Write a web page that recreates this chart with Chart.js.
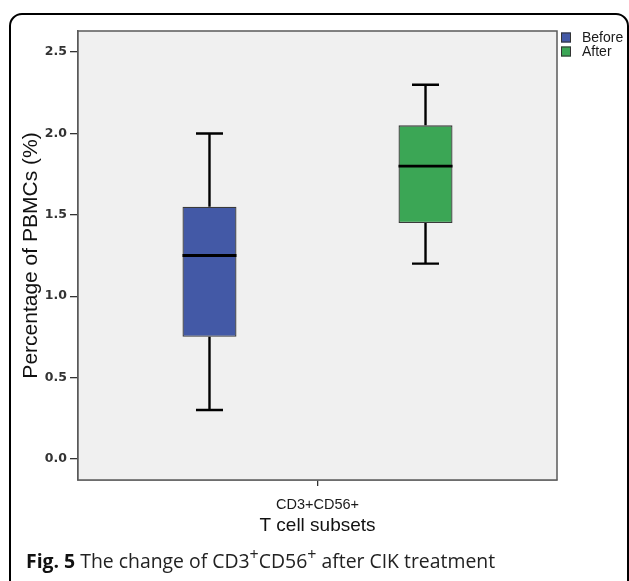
<!DOCTYPE html>
<html>
<head>
<meta charset="utf-8">
<script src="https://cdn.jsdelivr.net/npm/chart.js@4.4.1/dist/chart.umd.min.js"></script>
<style>
  html, body { margin: 0; padding: 0; background: #ffffff; }
  body { width: 629px; height: 581px; position: relative; overflow: hidden; }
  #frame { position: absolute; left: 9px; top: 13px; width: 620px; height: 620px; box-sizing: border-box;
           border: 2.5px solid #000; border-radius: 13px; }
  #wrap { position: absolute; left: 0; top: 0; width: 629px; height: 581px; }
  #caption { position: absolute; left: 26px; top: 550px; font-family: "Open Sans", sans-serif; font-size: 19.4px;
             color: #222; white-space: nowrap; line-height: 22px; }
  #caption b { font-weight: 700; color: #111; }
  #caption sup { font-size: 16px; vertical-align: 0; position: relative; top: -8px; }
</style>
</head>
<body>
<div id="frame"></div>
<div id="wrap"><canvas id="c" width="629" height="581"></canvas></div>
<div id="caption"><b>Fig. 5</b> The change of CD3<sup>+</sup>CD56<sup>+</sup> after CIK treatment</div>
<script>
// ---- data ----
const categories = ['CD3+CD56+'];
const seriesNames = ['Before', 'After'];
const seriesColors = ['#4359A6', '#3BA655'];
const whiskerMin = [0.30, 1.20];
const quartile1  = [0.75, 1.45];
const medians    = [1.25, 1.80];
const quartile3  = [1.55, 2.05];
const whiskerMax = [2.00, 2.30];
const yTickValues = [0.0, 0.5, 1.0, 1.5, 2.0, 2.5];

const datasets = seriesNames.map((name, i) => ({
  label: name,
  data: [[quartile1[i], quartile3[i]]],
  backgroundColor: seriesColors[i],
  borderColor: '#3a3a3a',
  borderWidth: 1.3,
  borderSkipped: false,
  categoryPercentage: 0.902,
  barPercentage: 0.25
}));

const plotBg = {
  id: 'plotBg',
  beforeDatasetsDraw(chart) {
    const {ctx, chartArea: a} = chart;
    ctx.save();
    ctx.fillStyle = '#F0F0F0';
    ctx.fillRect(a.left, a.top, a.right - a.left, a.bottom - a.top);
    ctx.restore();
  },
  afterDraw(chart) {
    const {ctx, chartArea: a} = chart;
    ctx.save();
    ctx.strokeStyle = '#5a5a5a';
    ctx.lineWidth = 1.5;
    ctx.strokeRect(a.left, a.top, a.right - a.left, a.bottom - a.top);
    ctx.restore();
  }
};

const boxWhiskers = {
  id: 'boxWhiskers',
  afterDatasetsDraw(chart) {
    const {ctx} = chart;
    const ys = chart.scales.y;
    ctx.save();
    ctx.strokeStyle = '#000';
    chart.data.datasets.forEach((ds, i) => {
      const meta = chart.getDatasetMeta(i);
      meta.data.forEach((bar, j) => {
        const x = bar.x, w = bar.width;
        const yMin = ys.getPixelForValue(whiskerMin[i]);
        const yQ1 = ys.getPixelForValue(quartile1[i]);
        const yMed = ys.getPixelForValue(medians[i]);
        const yQ3 = ys.getPixelForValue(quartile3[i]);
        const yMax = ys.getPixelForValue(whiskerMax[i]);
        ctx.lineWidth = 2.4;
        ctx.beginPath();
        ctx.moveTo(x, yMax); ctx.lineTo(x, yQ3);
        ctx.moveTo(x, yQ1); ctx.lineTo(x, yMin);
        ctx.moveTo(x - w / 4, yMax); ctx.lineTo(x + w / 4, yMax);
        ctx.moveTo(x - w / 4, yMin); ctx.lineTo(x + w / 4, yMin);
        ctx.stroke();
        ctx.lineWidth = 2.8;
        ctx.beginPath();
        ctx.moveTo(x - w / 2, yMed); ctx.lineTo(x + w / 2, yMed);
        ctx.stroke();
      });
    });
    ctx.restore();
  }
};

const sideLegend = {
  id: 'sideLegend',
  afterDraw(chart) {
    const {ctx, chartArea: a} = chart;
    ctx.save();
    ctx.font = '14px "Liberation Sans", Arial, sans-serif';
    ctx.textBaseline = 'middle';
    ctx.textAlign = 'left';
    chart.data.datasets.forEach((ds, i) => {
      const bx = a.right + 4, by = a.top + 1.5 + i * 14;
      ctx.fillStyle = ds.backgroundColor;
      ctx.fillRect(bx, by, 10, 10);
      ctx.strokeStyle = '#333';
      ctx.lineWidth = 1;
      ctx.strokeRect(bx + 0.5, by + 0.5, 9, 9);
      ctx.fillStyle = '#1a1a1a';
      ctx.fillText(ds.label, bx + 21, by + 5.5);
    });
    ctx.restore();
  }
};

new Chart(document.getElementById('c'), {
  type: 'bar',
  data: { labels: categories, datasets },
  options: {
    responsive: false,
    animation: false,
    layout: { padding: { left: 0, top: 31, right: 72, bottom: 41 } },
    plugins: { legend: { display: false }, tooltip: { enabled: false } },
    scales: {
      x: {
        type: 'category',
        offset: true,
        grid: { display: true, offset: false, drawOnChartArea: false, drawTicks: true, tickLength: 6, color: '#333', lineWidth: 1.3 },
        border: { display: true, color: '#5a5a5a', width: 1.5 },
        ticks: { color: '#1a1a1a', font: { family: '"Liberation Sans", Arial, sans-serif', size: 14.5 }, padding: 10, maxRotation: 0 },
        title: { display: true, text: 'T cell subsets', color: '#111',
                 font: { family: '"Liberation Sans", Arial, sans-serif', size: 19, lineHeight: 1.2 },
                 padding: { top: 0, bottom: 3 } },
        afterFit(s) { s.height = 60; }
      },
      y: {
        type: 'linear',
        min: -0.13,
        max: 2.63,
        afterBuildTicks(s) { s.ticks = yTickValues.map(v => ({ value: v })); },
        grid: { display: true, drawOnChartArea: false, drawTicks: true, tickLength: 8, color: '#333', lineWidth: 1.3 },
        border: { display: true, color: '#5a5a5a', width: 1.5 },
        ticks: { color: '#333', padding: 3,
                 font: { family: '"DejaVu Sans", sans-serif', size: 12.5, weight: 'bold' },
                 callback: v => Number(v).toFixed(1) },
        title: { display: true, text: 'Percentage of PBMCs (%)', color: '#111',
                 font: { family: '"Liberation Sans", Arial, sans-serif', size: 21, lineHeight: 1.2 },
                 padding: { top: 19, bottom: 0 } },
        afterFit(s) { s.width = 78; }
      }
    }
  },
  plugins: [plotBg, boxWhiskers, sideLegend]
});
</script>
</body>
</html>
